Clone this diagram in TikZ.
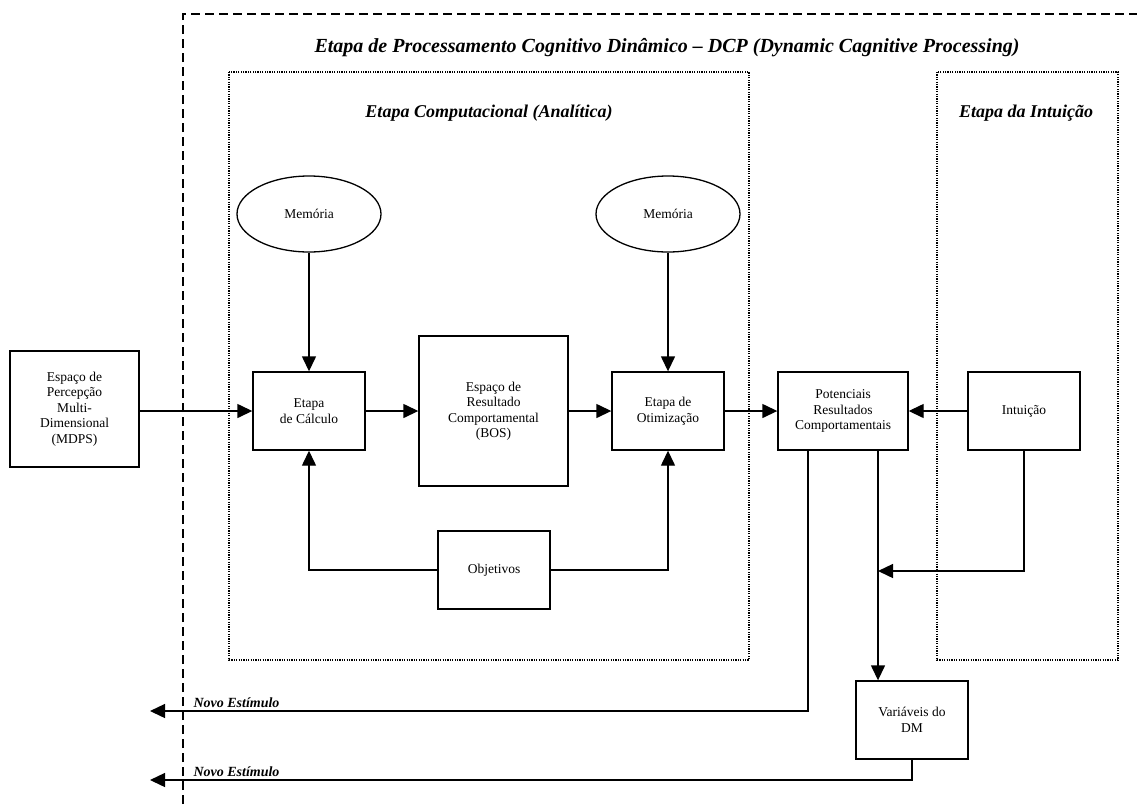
\documentclass[tikz,border=0pt]{standalone}
\usepackage{fontspec}
\setmainfont{Liberation Serif}
\usetikzlibrary{arrows.meta,shapes.geometric}

\tikzset{
  box/.style={draw, line width=1.4pt, rectangle, inner sep=0pt, align=center,
              font=\fontsize{13.5}{15.5}\selectfont},
  memo/.style={draw, line width=1.3pt, ellipse, inner sep=0pt,
               minimum width=144pt, minimum height=76pt,
               font=\fontsize{13.5}{15.5}\selectfont},
  arr/.style={line width=1.4pt, -{Triangle[length=15pt,width=14pt]}},
  outerframe/.style={line width=1.5pt, dash pattern=on 9pt off 5pt},
  stageframe/.style={line width=1.2pt, dash pattern=on 1.2pt off 1.2pt},
  headline/.style={font=\fontsize{20}{24}\selectfont\bfseries\itshape, anchor=base},
  stagehead/.style={font=\fontsize{18}{22}\selectfont\bfseries\itshape, anchor=base},
  feedback/.style={font=\fontsize{14}{16}\selectfont\bfseries\itshape, anchor=base west}
}

\begin{document}
\begin{tikzpicture}[x=1pt, y=-1pt]
  \useasboundingbox (0,0) rectangle (1137,804);
  \fill[white] (0,0) rectangle (1137,804);

  % dynamic cognitive processing frame (open to the right and bottom)
  \draw[outerframe] (183,804) -- (183,14) -- (1137,14);
  \node[headline] (dcp) at (667,52)
    {Etapa de Processamento Cognitivo Dinâmico – DCP (Dynamic Cagnitive Processing)};

  % computational and intuition stages
  \draw[stageframe] (229,72) rectangle (749,660);
  \draw[stageframe] (937,72) rectangle (1118,660);
  \node[stagehead] (comp) at (489,117) {Etapa Computacional (Analítica)};
  \node[stagehead] (intst) at (1026,117) {Etapa da Intuição};

  % blocks
  \node[box, minimum width=129pt, minimum height=116pt] (mdps) at (74.5,409)
    {Espaço de\\Percepção\\Multi-\\Dimensional\\(MDPS)};
  \node[memo] (memA) at (309,214) {Memória};
  \node[memo] (memB) at (668,214) {Memória};
  \node[box, minimum width=112pt, minimum height=78pt] (calc) at (309,411)
    {Etapa\\de Cálculo};
  \node[box, minimum width=149pt, minimum height=150pt] (bos) at (493.5,411)
    {Espaço de\\Resultado\\Comportamental\\(BOS)};
  \node[box, minimum width=112pt, minimum height=78pt] (otim) at (668,411)
    {Etapa de\\Otimização};
  \node[box, minimum width=130pt, minimum height=78pt] (pot) at (843,411)
    {Potenciais\\Resultados\\Comportamentais};
  \node[box, minimum width=112pt, minimum height=78pt] (intu) at (1024,411)
    {Intuição};
  \node[box, minimum width=112pt, minimum height=78pt] (obj) at (494,570)
    {Objetivos};
  \node[box, minimum width=112pt, minimum height=78pt] (dmv) at (912,720)
    {Variáveis do\\DM};

  % junction points and loose ends
  \coordinate (potL) at (808,450);
  \coordinate (potR) at (878,450);
  \coordinate (merge) at (878,571);
  \coordinate (stimA) at (150,711);
  \coordinate (stimB) at (150,780);

  % main flow
  \draw[arr] (mdps.east |- calc.west) -- (calc.west);
  \draw[arr] (calc.east) -- (bos.west |- calc.east);
  \draw[arr] (bos.east |- otim.west) -- (otim.west);
  \draw[arr] (otim.east) -- (pot.west |- otim.east);
  \draw[arr] (intu.west) -- (pot.east);
  \draw[arr] (memA.south) -- (calc.north);
  \draw[arr] (memB.south) -- (otim.north);
  \draw[arr] (obj.west) -| (calc.south);
  \draw[arr] (obj.east) -| (otim.south);

  % outputs and feedback
  \draw[arr] (potR) -- (potR |- dmv.north);
  \draw[arr] (intu.south) |- (merge);
  \draw[arr] (potL) |- (stimA);
  \draw[arr] (dmv.south) |- (stimB);
  \node[feedback] (lblA) at (190,707) {Novo Estímulo};
  \node[feedback] (lblB) at (190,776) {Novo Estímulo};
\end{tikzpicture}
\end{document}
